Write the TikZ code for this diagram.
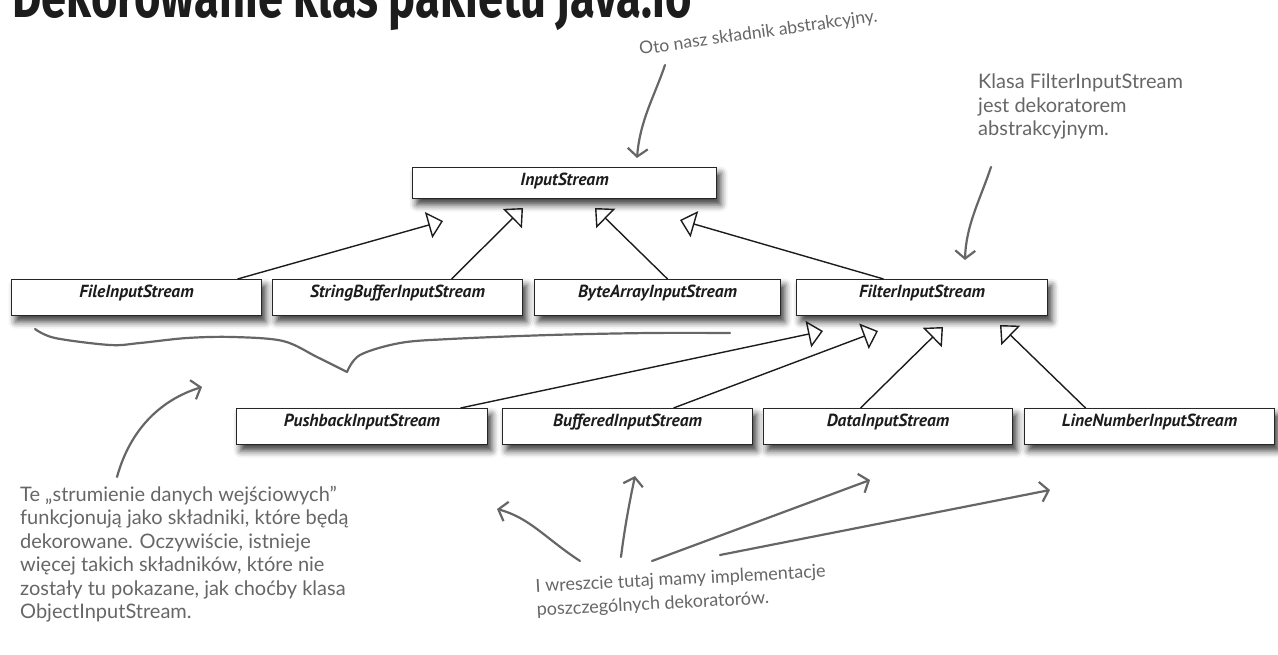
\documentclass[tikz,border=0pt]{standalone}
\usepackage{fontspec}
\setmainfont{Lato}
\newfontfamily\titlefont{Fira Sans}
\newfontfamily\classfont{PT Sans}
\newfontfamily\handfont{Lato}
\usetikzlibrary{arrows.meta,shadows.blur,calc}
\definecolor{pencil}{HTML}{666666}
\definecolor{frame}{HTML}{262626}
\definecolor{ink}{HTML}{1C1C1C}

\tikzset{
  cls/.style={draw=frame, line width=1.1pt, fill=white, anchor=north west,
    font=\classfont\bfseries\itshape\fontsize{17.5}{19}\selectfont, text=ink,
    inner sep=0pt, text height=18pt, text depth=18pt,
    blur shadow={shadow xshift=4pt, shadow yshift=-6pt,
      shadow blur radius=7pt, shadow opacity=78}},
  gen/.style={draw=ink, line width=1.4pt,
    -{Triangle[open, length=15pt, width=27pt, line width=1.4pt]}},
  note/.style={font=\handfont\fontsize{20}{23.5}\selectfont, text=pencil,
    align=left, inner sep=0pt},
  pen/.style={draw=pencil, line width=2.2pt, line cap=round, line join=round},
  penarrow/.style={pen, -{Straight Barb[length=8pt, width=20pt]}}
}

\begin{document}
\begin{tikzpicture}[x=1pt, y=-1pt]
\useasboundingbox (0,0) rectangle (1278,655);
\clip (0,0) rectangle (1278,655);

% heading, cut by the top edge
\node[anchor=base west, inner sep=0pt, text=ink,
  font=\titlefont\bfseries\fontsize{44}{44}\selectfont] (title) at (12,18)
  {\scalebox{1.03}[1.35]{Dekorowanie klas pakietu java.io}};

% class boxes
\node[cls, minimum width=304pt, text depth=13pt] (is) at (412,167) {InputStream};

\node[cls, minimum width=250pt] (fis)  at (11,279)  {FileInputStream};
\node[cls, minimum width=250pt] (sbis) at (272,279) {StringBufferInputStream};
\node[cls, minimum width=246pt] (bais) at (534,279) {ByteArrayInputStream};
\node[cls, minimum width=251pt] (filt) at (796,279) {FilterInputStream};

\node[cls, minimum width=251pt] (pis)  at (236,408)  {PushbackInputStream};
\node[cls, minimum width=250pt] (bufis) at (502,408) {BufferedInputStream};
\node[cls, minimum width=249pt] (dis)  at (763,408)  {DataInputStream};
\node[cls, minimum width=250pt] (lnis) at (1024,408) {LineNumberInputStream};

% arrow tips of the generalisations
\coordinate (t1) at (443,221);
\coordinate (t2) at (523,208);
\coordinate (t3) at (595,208);
\coordinate (t4) at (680,220);
\coordinate (t5) at (823,331);
\coordinate (t6) at (878,331);
\coordinate (t7) at (943,327);
\coordinate (t8) at (1000,325);

\draw[gen] ([xshift=101pt]fis.north)   -- (t1);
\draw[gen] ([xshift=54pt]sbis.north)   -- (t2);
\draw[gen] ([xshift=10pt]bais.north)   -- (t3);
\draw[gen] ([xshift=-38.5pt]filt.north) -- (t4);
\draw[gen] ([xshift=98.5pt]pis.north)  -- (t5);
\draw[gen] ([xshift=46pt]bufis.north)  -- (t6);
\draw[gen] ([xshift=-27.5pt]dis.north) -- (t7);
\draw[gen] ([xshift=-64pt]lnis.north)  -- (t8);

% handwritten notes
\node[note, font=\handfont\fontsize{17.5}{22}\selectfont, rotate=8,
  anchor=base west] (oto) at (640,55)
  {Oto nasz składnik abstrakcyjny.};
\node[note, anchor=north west] (klasa) at (978,74)
  {Klasa FilterInputStream\\jest dekoratorem\\abstrakcyjnym.};
\node[note, anchor=north west] (comp) at (20,486)
  {Te „strumienie danych wejściowych”\\funkcjonują jako składniki, które będą\\dekorowane. Oczywiście, istnieje\\więcej takich składników, które nie\\zostały tu pokazane, jak choćby klasa\\ObjectInputStream.};
\node[note, font=\handfont\fontsize{18}{23.5}\selectfont, rotate=3,
  anchor=north west] (impl) at (535,579)
  {I wreszcie tutaj mamy implementacje\\poszczególnych dekoratorów.};

% brace under the concrete components
\draw[pen] plot[smooth, tension=0.55] coordinates {
  (35,329) (55,338) (110,345) (140,343) (187,338) (233,337) (283,341)
  (317,357) (347,372)};
\draw[pen] plot[smooth, tension=0.55] coordinates {
  (347,372) (360,355) (400,343) (450,339) (550,335) (650,333) (730,333)};

% pencil arrows
\coordinate (otoS) at (665,65);
\coordinate (otoT) at (637,158);
\draw[penarrow] (otoS) .. controls (655,95) and (640,120) .. (otoT);

\coordinate (klS) at (991,167);
\coordinate (klT) at (965,260);
\draw[penarrow] (klS) .. controls (980,200) and (966,225) .. (klT);

\coordinate (cS) at (117,477);
\coordinate (cT) at (202,387);
\draw[penarrow] (cS) .. controls (130,430) and (160,400) .. (cT);

\coordinate (iA) at (580,561);
\coordinate (iAT) at (497,509);
\draw[penarrow] (iA) .. controls (545,538) and (530,518) .. (iAT);
\coordinate (iB) at (621,557);
\coordinate (iBT) at (635,476);
\draw[penarrow] (iB) .. controls (625,525) and (630,500) .. (iBT);
\coordinate (iC) at (652,561);
\coordinate (iCT) at (870,480);
\draw[penarrow] (iC) -- (iCT);
\coordinate (iD) at (720,555);
\coordinate (iDT) at (1050,490);
\draw[penarrow] (iD) -- (iDT);
\end{tikzpicture}
\end{document}
